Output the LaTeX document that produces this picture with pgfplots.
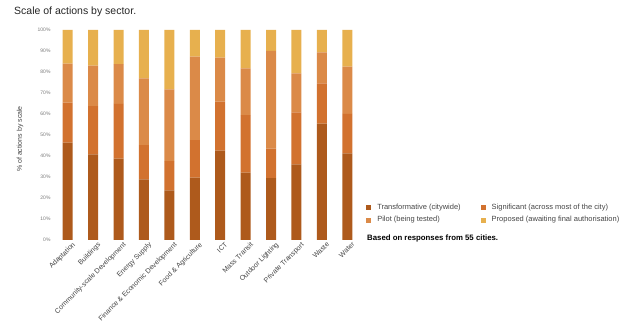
\documentclass[border=0pt]{standalone}
\usepackage{pgfplots}
\pgfplotsset{compat=1.18}
\usepackage{pgfplotstable}
\usepackage{fontspec}
\setmainfont{Liberation Sans}
\definecolor{ctrans}{HTML}{AE5A1C}
\definecolor{csig}{HTML}{D2722F}
\definecolor{cpilot}{HTML}{DB8A48}
\definecolor{cprop}{HTML}{E7B04E}
\definecolor{ticktext}{HTML}{7A7A7A}
\definecolor{labeltext}{HTML}{444444}
\pgfplotstableread{
idx T S P Pr
0 46.4 19.0 18.6 16.0
1 40.8 23.0 19.2 17.0
2 38.7 26.1 19.0 16.2
3 28.9 16.3 31.8 23.0
4 23.6 14.0 34.1 28.3
5 29.7 17.9 39.7 12.7
6 42.5 23.4 20.9 13.2
7 32.1 27.4 22.2 18.3
8 29.5 14.0 46.5 10.0
9 36.0 24.8 18.6 20.6
10 55.4 19.2 14.8 10.6
11 41.3 18.7 22.5 17.5
}\data
\begin{document}
\begin{tikzpicture}[x=1pt,y=1pt]
\path[use as bounding box] (0,0) rectangle (642,336);
\node[anchor=west,font=\fontsize{10.5}{12}\selectfont,text=black!85,inner sep=0pt] at (14,324) {Scale of actions by sector.};
\node[rotate=90,font=\fontsize{7}{8}\selectfont,text=labeltext,inner sep=0pt] at (20,197) {\% of actions by scale};
\begin{axis}[
  at={(55pt,96pt)}, anchor=south west,
  scale only axis, width=305pt, height=210pt,
  ybar stacked, bar width=10pt,
  xmin=-0.5, xmax=11.5, ymin=0, ymax=100,
  axis line style={draw=none}, tick style={draw=none},
  ytick={0,10,...,100},
  yticklabels={0\%,10\%,20\%,30\%,40\%,50\%,60\%,70\%,80\%,90\%,100\%},
  yticklabel style={font=\fontsize{5}{6}\selectfont,text=ticktext,xshift=-1pt},
  xtick={0,...,11},
  xticklabels={Adaptation,Buildings,Community-scale Development,Energy Supply,Finance \& Economic Development,Food \& Agriculture,ICT,Mass Transit,Outdoor Lighting,Private Transport,Waste,Water},
  xticklabel style={font=\fontsize{7}{8}\selectfont,text=labeltext,rotate=45,anchor=north east,inner sep=1pt,xshift=3pt,yshift=-3pt},
  legend columns=2,
  legend cell align=left,
  legend style={draw=none,fill=none,at={(1.01,0.126)},anchor=west,
     font=\fontsize{7.5}{9}\selectfont,text=labeltext,
     /tikz/every odd column/.append style={column sep=4pt},
     /tikz/every even column/.append style={column sep=18pt},
     row sep=2pt},
  legend image code/.code={\fill[#1,draw=none] (0pt,-2.5pt) rectangle (5pt,2.5pt);},
]
\addplot[fill=ctrans,draw=none] table[x=idx,y=T]{\data};
\addplot[fill=csig,draw=none] table[x=idx,y=S]{\data};
\addplot[fill=cpilot,draw=none] table[x=idx,y=P]{\data};
\addplot[fill=cprop,draw=none] table[x=idx,y=Pr]{\data};
\legend{Transformative (citywide),Significant (across most of the city),Pilot (being tested),Proposed (awaiting final authorisation)}
\end{axis}
\node[anchor=west,font=\bfseries\fontsize{7.8}{9}\selectfont,inner sep=0pt] at (367,98) {Based on responses from 55 cities.};
\end{tikzpicture}
\end{document}
